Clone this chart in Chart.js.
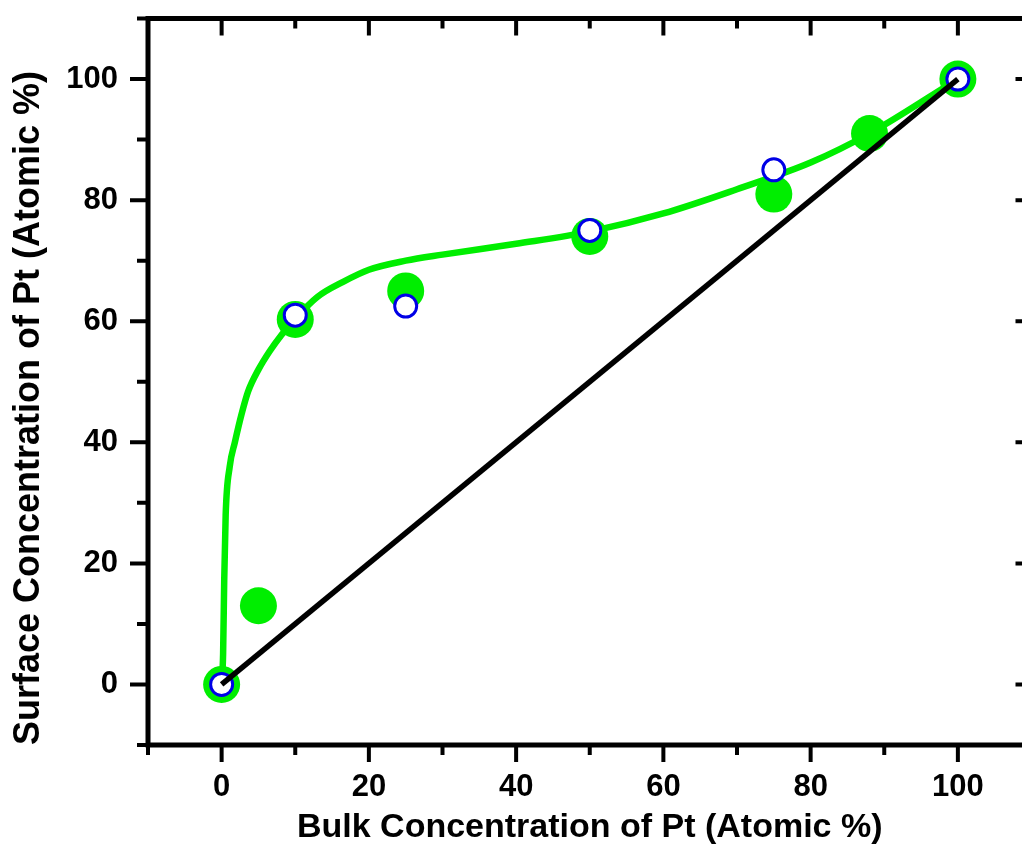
<!DOCTYPE html>
<html>
<head>
<meta charset="utf-8">
<script src="https://cdn.jsdelivr.net/npm/chart.js@4.4.0/dist/chart.umd.min.js"></script>
<style>
  html, body { margin: 0; padding: 0; background: #fff; overflow: hidden; }
  #wrap { width: 1050px; height: 865px; }
</style>
</head>
<body>
<div id="wrap"><canvas id="chart" width="1050" height="865"></canvas></div>
<script>
// ── Data ─────────────────────────────────────────────────────────────
const measuredX   = [0, 5, 10, 25, 50, 75, 88, 100];
const measuredY   = [0, 13, 60.3, 65, 74, 81, 91, 100];

const calcX       = [0, 10, 25, 50, 75, 100];
const calcY       = [0, 61, 62.5, 75, 85, 100];

const fitX        = [0, 0.2, 0.35, 0.55, 1.1, 1.8, 2.7, 3.6, 5, 6.5, 8.1, 10, 13, 16.5, 20, 25, 30, 40, 50, 60, 70, 80, 88, 100];
const fitY        = [0, 5, 17, 28, 36, 40, 44.6, 48.4, 52, 55, 57.7, 60.4, 64, 66.5, 68.5, 70, 71, 72.8, 74.8, 77.8, 81.8, 86.2, 91, 100];

const idealX      = [0, 100];
const idealY      = [0, 100];

const tickLabels  = [0, 20, 40, 60, 80, 100];

const GREEN = '#00ee00';
const BLUE  = '#0000e6';
const FONT  = "'Liberation Sans', Arial, sans-serif";

const pts = (xs, ys) => xs.map((x, i) => ({ x, y: ys[i] }));

// ── Frame + inward/outward tick marks (Origin style) ────────────────
const framePlugin = {
  id: 'frame',
  afterDraw(chart) {
    const { ctx, chartArea: a, scales } = chart;
    ctx.save();
    ctx.strokeStyle = '#000';
    ctx.lineCap = 'butt';
    ctx.lineWidth = 4;
    scales.x.ticks.forEach(t => {
      const px = scales.x.getPixelForValue(t.value);
      const major = tickLabels.includes(t.value);
      ctx.beginPath();
      ctx.moveTo(px, a.bottom); ctx.lineTo(px, a.bottom + (major ? 17 : 10));
      ctx.moveTo(px, a.top);    ctx.lineTo(px, a.top + (major ? 17 : 10));
      ctx.stroke();
    });
    scales.y.ticks.forEach(t => {
      const py = scales.y.getPixelForValue(t.value);
      const major = tickLabels.includes(t.value);
      ctx.beginPath();
      ctx.moveTo(a.left, py);  ctx.lineTo(a.left - (major ? 18 : 11), py);
      ctx.moveTo(a.right, py); ctx.lineTo(a.right - (major ? 16 : 9), py);
      ctx.stroke();
    });
    ctx.lineWidth = 5;
    ctx.strokeRect(a.left, a.top, a.right - a.left, a.bottom - a.top);
    ctx.restore();
  }
};

const tickCb = v => tickLabels.includes(v) ? String(v) : '';

new Chart(document.getElementById('chart'), {
  type: 'scatter',
  data: {
    datasets: [
      {
        label: 'ideal',
        data: pts(idealX, idealY),
        showLine: true,
        borderColor: '#000',
        borderWidth: 5.5,
        pointRadius: 0,
        order: 0,
      },
      {
        label: 'calculated',
        data: pts(calcX, calcY),
        showLine: false,
        pointRadius: 11,
        pointBorderWidth: 3,
        pointBorderColor: BLUE,
        pointBackgroundColor: '#fff',
        order: 1,
      },
      {
        label: 'measured',
        data: pts(measuredX, measuredY),
        showLine: false,
        pointRadius: 18.5,
        pointBorderWidth: 0,
        pointBackgroundColor: GREEN,
        order: 2,
      },
      {
        label: 'fit',
        data: pts(fitX, fitY),
        showLine: true,
        borderColor: GREEN,
        borderWidth: 6.5,
        pointRadius: 0,
        cubicInterpolationMode: 'monotone',
        order: 3,
      },
    ],
  },
  options: {
    responsive: false,
    animation: false,
    events: [],
    layout: { padding: { top: 15, right: 9, left: 0, bottom: 0 } },
    plugins: { legend: { display: false }, tooltip: { enabled: false } },
    scales: {
      x: {
        type: 'linear', min: -10, max: 110,
        afterFit: s => { s.height = 120; s.paddingLeft = 0; s.paddingRight = 0; },
        grid: { display: false, drawTicks: false },
        border: { display: false },
        ticks: { stepSize: 10, autoSkip: false, maxRotation: 0, padding: 24, color: '#000',
                 font: { family: FONT, size: 31, weight: 'bold' }, callback: tickCb },
        title: { display: true, text: 'Bulk Concentration of Pt (Atomic %)', color: '#000',
                 padding: { top: 0, bottom: 17 }, font: { family: FONT, size: 34, weight: 'bold' } },
      },
      y: {
        type: 'linear', min: -10, max: 110,
        afterFit: s => { s.width = 148; s.paddingTop = 0; s.paddingBottom = 0; },
        grid: { display: false, drawTicks: false },
        border: { display: false },
        ticks: { stepSize: 10, autoSkip: false, padding: 30, color: '#000',
                 font: { family: FONT, size: 31, weight: 'bold' }, callback: tickCb },
        title: { display: true, text: 'Surface Concentration of Pt (Atomic %)', color: '#000', align: 'start',
                 padding: { top: 7, bottom: 0 }, font: { family: FONT, size: 36, weight: 'bold' } },
      },
    },
  },
  plugins: [framePlugin],
});
</script>
</body>
</html>
